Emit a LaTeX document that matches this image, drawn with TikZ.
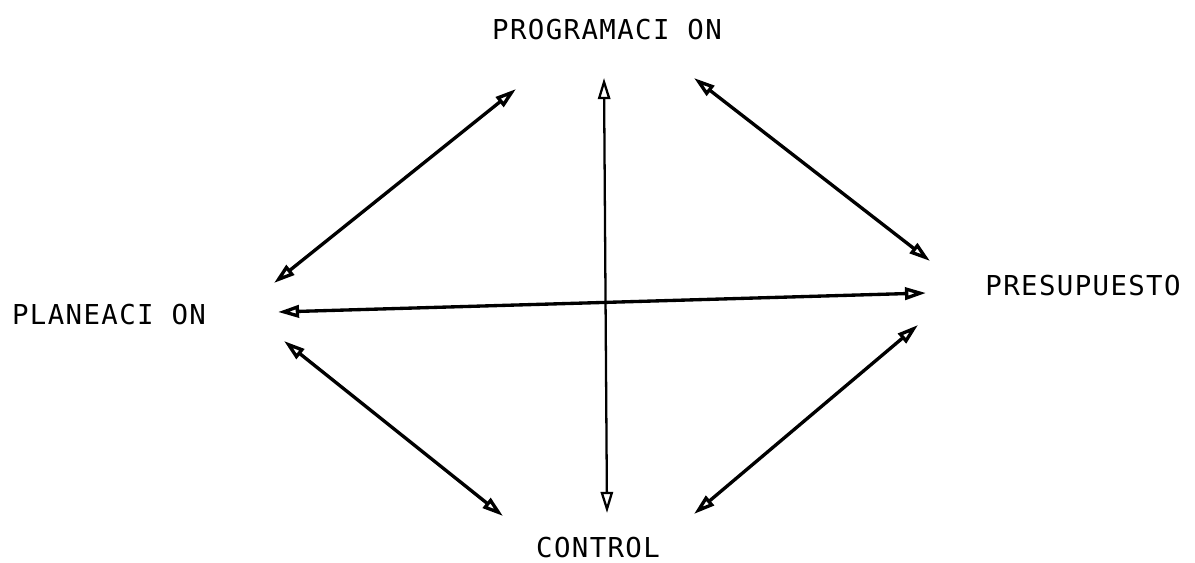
\documentclass[tikz,border=0pt]{standalone}
\usepackage{fontspec}
\usetikzlibrary{arrows.meta}
\newfontfamily\typefont{DejaVu Sans Mono}[LetterSpace=5]

\begin{document}
\begin{tikzpicture}[x=0.02cm, y=-0.02cm,
    label/.style={font=\typefont\fontsize{15.6}{18}\selectfont, inner sep=0pt},
    link/.style={{Triangle[open,length=12pt,width=7pt]}-{Triangle[open,length=12pt,width=7pt]},
                 line width=1.9pt, line join=round}
]
    \useasboundingbox (0,0) rectangle (1195,563);

    \node[label] (prog) at (607,30)  {PROGRAMACI ON};
    \node[label] (plan) at (109,315) {PLANEACI ON};
    \node[label] (pres) at (1083,286) {PRESUPUESTO};
    \node[label] (ctrl) at (598,548) {CONTROL};

    % arrow ends
    \coordinate (tl1) at (516,89);   \coordinate (tl2) at (274,283);
    \coordinate (v1)  at (604,78);   \coordinate (v2)  at (607,513);
    \coordinate (tr1) at (694,78);   \coordinate (tr2) at (930,261);
    \coordinate (h1)  at (278,312);  \coordinate (h2)  at (926,293);
    \coordinate (bl1) at (284,341);  \coordinate (bl2) at (503,516);
    \coordinate (br1) at (918,325);  \coordinate (br2) at (694,514);

    \draw[link] (tl1) -- (tl2);
    \draw[link, line width=1.3pt] (v1) -- (v2);
    \draw[link] (tr1) -- (tr2);
    \draw[link] (h1) -- (h2);
    \draw[link] (bl1) -- (bl2);
    \draw[link] (br1) -- (br2);
\end{tikzpicture}
\end{document}
